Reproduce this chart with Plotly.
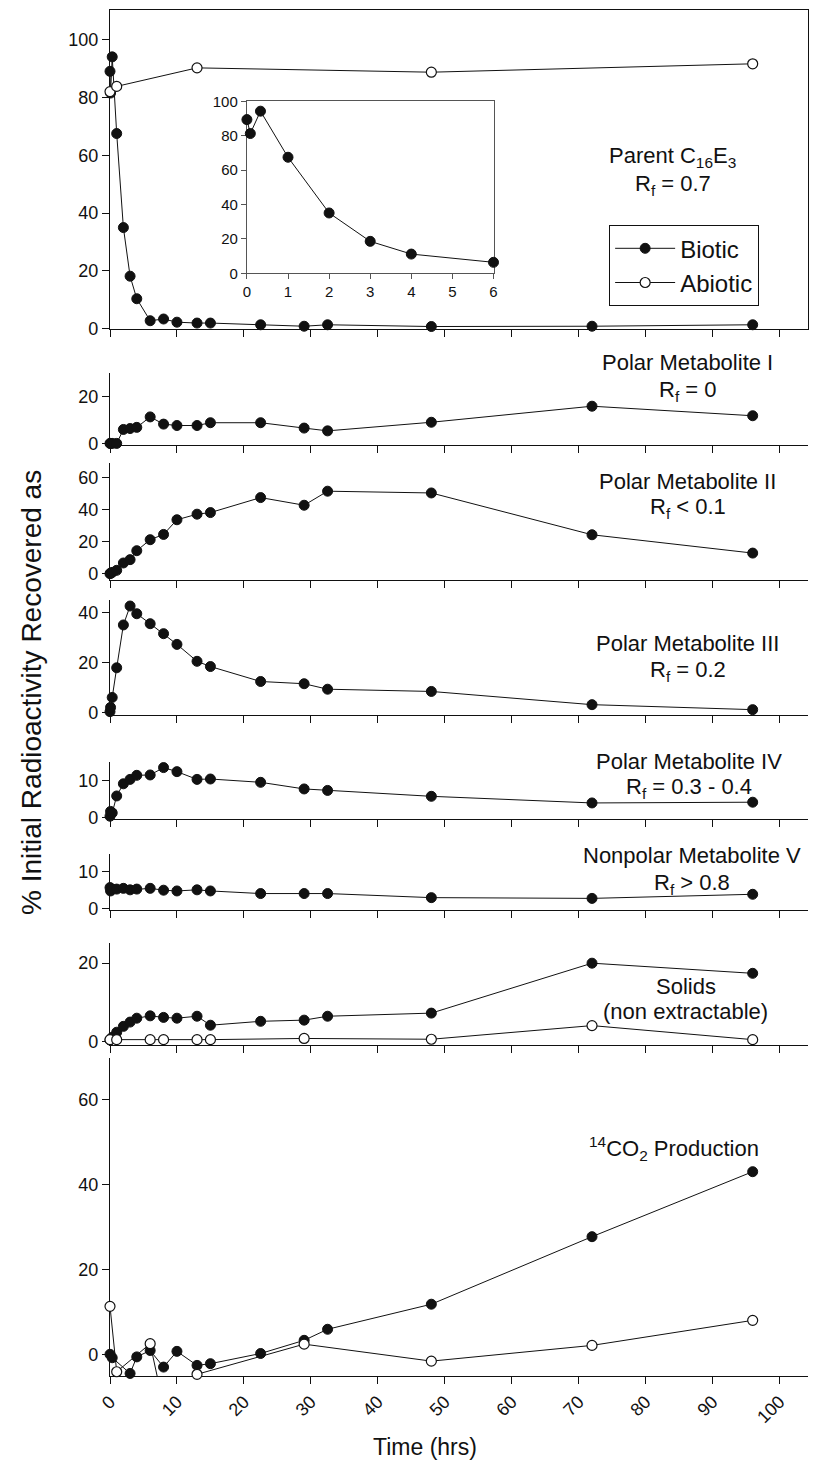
import plotly.graph_objects as go

# ---------------- data ----------------
# sampling times (hrs) for the biotic incubations
t_bio = [0, 0.083, 0.33, 1, 2, 3, 4, 6, 8, 10, 13, 15, 22.5, 29, 32.5, 48, 72, 96]

parent_bio = [89, 81.5, 94, 67.5, 35, 18.2, 10.4, 2.8, 3.4, 2.3, 2.0, 2.0, 1.4, 0.9, 1.4, 0.8, 0.9, 1.4]
t_parent_abio = [0, 1, 13, 48, 96]
parent_abio = [82, 83.8, 90.2, 88.7, 91.6]

# first six hours of the parent compound (inset)
t_inset = [0, 0.083, 0.33, 1, 2, 3, 4, 6]
inset_bio = [89.4, 81.3, 94.3, 67.5, 35.1, 18.6, 11.2, 6.4]

polar1_bio = [0, 0, 0, 0, 6.0, 6.4, 6.9, 11.4, 8.3, 7.7, 7.7, 8.9, 8.9, 6.6, 5.4, 9.1, 16.0, 11.9]
polar2_bio = [0, 0.3, 0.8, 2.1, 6.7, 8.8, 14.4, 21.3, 24.6, 33.8, 37.3, 38.3, 47.7, 42.9, 51.7, 50.6, 24.4, 12.9]
polar3_bio = [0.3, 2.0, 6.0, 17.9, 35.1, 42.7, 39.6, 35.6, 31.6, 27.3, 20.5, 18.4, 12.4, 11.5, 9.3, 8.4, 3.1, 1.1]
polar4_bio = [0.3, 1.6, 1.2, 5.8, 9.1, 10.3, 11.4, 11.5, 13.5, 12.4, 10.3, 10.4, 9.5, 7.7, 7.3, 5.7, 3.9, 4.1]
nonpolar5_bio = [5.6, 4.7, 5.2, 5.2, 5.4, 5.0, 5.2, 5.4, 4.9, 4.7, 5.0, 4.7, 4.0, 4.0, 4.0, 2.9, 2.7, 3.8]
solids_bio = [0.3, 0.5, 1.0, 2.3, 3.8, 4.9, 5.9, 6.5, 6.1, 5.9, 6.4, 4.1, 5.1, 5.4, 6.4, 7.2, 20.0, 17.4]
t_solids_abio = [0, 1, 6, 8, 13, 15, 29, 48, 72, 96]
solids_abio = [0.4, 0.4, 0.4, 0.4, 0.4, 0.4, 0.7, 0.5, 4.0, 0.4]

t_co2_bio = [0, 0.33, 3, 4, 6, 8, 10, 13, 15, 22.5, 29, 32.5, 48, 72, 96]
co2_bio = [0.1, -0.7, -4.4, -0.5, 1.0, -2.9, 0.8, -2.5, -2.1, 0.3, 3.4, 6.0, 11.9, 27.8, 43.1]
t_co2_abio = [0, 1, 6, 8, 13, 29, 48, 72, 96]
co2_abio = [11.4, -4.0, 2.6, -12.0, -4.6, 2.5, -1.5, 2.2, 8.1]

x_ticks = [0, 10, 20, 30, 40, 50, 60, 70, 80, 90, 100]
inset_x_ticks = [0, 1, 2, 3, 4, 5, 6]

# ---------------- page geometry ----------------
W, H = 813, 1464
ML, MR, MT, MB = 110, 1, 5, 88
PW = W - ML - MR
PH = H - MT - MB
X_MAX = PW / 67.33 * 10  # 10 hrs per 67.33 px


def fx(px):
    return (px - ML) / PW


def fy(py):
    return (H - MB - py) / PH


FONT = "Arial, 'Liberation Sans', Helvetica, sans-serif"
INK = "#111111"

# panel frames in page pixels (top, bottom), y-range and y ticks
panels = [
    dict(top=5, bottom=325, yr=[0, 110.2], yt=[0, 20, 40, 60, 80, 100]),
    dict(top=369.3, bottom=441.7, yr=[-0.73, 30.3], yt=[0, 20]),
    dict(top=459.3, bottom=577.3, yr=[-4.1, 69.6], yt=[0, 20, 40, 60]),
    dict(top=596.7, bottom=712.7, yr=[-1.1, 45.3], yt=[0, 20, 40]),
    dict(top=760, bottom=817.3, yr=[-0.55, 14.95], yt=[0, 10]),
    dict(top=851.7, bottom=908.3, yr=[-0.43, 14.75], yt=[0, 10]),
    dict(top=941.7, bottom=1043.3, yr=[-0.85, 25.1], yt=[0, 20]),
    dict(top=1056.7, bottom=1376, yr=[-5.0, 69.9], yt=[0, 20, 40, 60]),
]

fig = go.Figure()

filled = dict(symbol="circle", size=10, color=INK, line=dict(color=INK, width=1))
hollow = dict(symbol="circle", size=10, color="white", line=dict(color=INK, width=1.2))


def add_series(x, y, idx, style, name, legend=False, yrange=None):
    marker = dict(style)
    if yrange is not None:
        # hide markers that fall outside the panel's y-range
        marker["opacity"] = [1 if yrange[0] <= v <= yrange[1] else 0 for v in y]
    fig.add_trace(go.Scatter(
        x=x, y=y, mode="lines+markers", name=name, showlegend=legend,
        line=dict(color=INK, width=1), marker=marker, cliponaxis=False,
        xaxis="x" if idx == 1 else f"x{idx}", yaxis="y" if idx == 1 else f"y{idx}",
        hoverinfo="x+y",
    ))


add_series(t_bio, parent_bio, 1, filled, "Biotic", legend=True)
add_series(t_parent_abio, parent_abio, 1, hollow, "Abiotic", legend=True)
add_series(t_bio, polar1_bio, 2, filled, "Biotic")
add_series(t_bio, polar2_bio, 3, filled, "Biotic")
add_series(t_bio, polar3_bio, 4, filled, "Biotic")
add_series(t_bio, polar4_bio, 5, filled, "Biotic")
add_series(t_bio, nonpolar5_bio, 6, filled, "Biotic")
add_series(t_bio, solids_bio, 7, filled, "Biotic")
add_series(t_solids_abio, solids_abio, 7, hollow, "Abiotic")
add_series(t_co2_bio, co2_bio, 8, filled, "Biotic", yrange=panels[7]["yr"])
add_series(t_co2_abio, co2_abio, 8, hollow, "Abiotic", yrange=panels[7]["yr"])

# inset: parent compound over the first six hours
fig.add_trace(go.Scatter(
    x=t_inset, y=inset_bio, mode="lines+markers", showlegend=False, name="Biotic",
    line=dict(color=INK, width=1), marker=filled, cliponaxis=False,
    xaxis="x9", yaxis="y9",
))

axis_common = dict(
    showgrid=False, zeroline=False, showline=True, linecolor=INK, linewidth=1.2,
    ticks="outside", tickcolor=INK, tickwidth=1.2, ticklen=7, layer="below traces",
    tickfont=dict(family=FONT, size=18, color=INK),
)

layout = dict(
    width=W, height=H, margin=dict(l=ML, r=MR, t=MT, b=MB),
    paper_bgcolor="white", plot_bgcolor="white",
    font=dict(family=FONT, color=INK),
    showlegend=True,
    legend=dict(
        x=fx(612), y=fy(221), xanchor="left", yanchor="top",
        bordercolor=INK, borderwidth=1, bgcolor="white",
        font=dict(family=FONT, size=24, color=INK),
        itemwidth=60, tracegroupgap=2,
    ),
)

for i, p in enumerate(panels, start=1):
    xa = "xaxis" if i == 1 else f"xaxis{i}"
    ya = "yaxis" if i == 1 else f"yaxis{i}"
    yref = "y" if i == 1 else f"y{i}"
    xref = "x" if i == 1 else f"x{i}"
    dom = [fy(p["bottom"]), fy(p["top"])]
    layout[xa] = dict(
        axis_common, domain=[0, 1], range=[0, X_MAX], anchor=yref,
        tickvals=x_ticks, showticklabels=(i == 8), tickangle=-45,
        mirror=(i == 1),
        **({} if i == 1 else dict(matches="x")),
    )
    layout[ya] = dict(
        axis_common, domain=dom, range=p["yr"], anchor=xref,
        tickvals=p["yt"], mirror=(i == 1),
    )

layout["xaxis9"] = dict(
    axis_common, domain=[fx(247.7), fx(495.7)], range=[0, 6], anchor="y9",
    tickvals=inset_x_ticks, ticklen=5, linecolor="#555555", tickcolor="#555555",
    tickfont=dict(family=FONT, size=15, color=INK), mirror=True,
)
layout["yaxis9"] = dict(
    axis_common, domain=[fy(269.3), fy(96.7)], range=[0, 100], anchor="x9",
    tickvals=[0, 20, 40, 60, 80, 100], ticklen=5, linecolor="#555555", tickcolor="#555555",
    tickfont=dict(family=FONT, size=15, color=INK), mirror=True,
)

fig.update_layout(**layout)

# panel labels
labels = [
    ("Parent C<sub>16</sub>E<sub>3</sub>", 676, 153),
    ("R<sub>f</sub> = 0.7", 676, 181),
    ("Polar Metabolite I", 691, 359),
    ("R<sub>f</sub> = 0", 691, 387),
    ("Polar Metabolite II", 691, 478),
    ("R<sub>f</sub> &lt; 0.1", 691, 505),
    ("Polar Metabolite III", 691, 641),
    ("R<sub>f</sub> = 0.2", 691, 668),
    ("Polar Metabolite IV", 692, 759),
    ("R<sub>f</sub> = 0.3 - 0.4", 692, 786),
    ("Nonpolar Metabolite V", 695, 854),
    ("R<sub>f</sub> &gt; 0.8", 695, 882),
    ("Solids", 689, 985),
    ("(non extractable)", 689, 1010),
    ("<sup>14</sup>CO<sub>2</sub> Production", 677, 1148),
]
for text, px, py in labels:
    fig.add_annotation(
        text=text, x=fx(px), y=fy(py), xref="paper", yref="paper",
        xanchor="center", yanchor="middle", showarrow=False,
        font=dict(family=FONT, size=22, color=INK),
    )

# axis titles
fig.add_annotation(
    text="Time (hrs)", x=fx(427), y=fy(1447), xref="paper", yref="paper",
    xanchor="center", yanchor="middle", showarrow=False,
    font=dict(family=FONT, size=23, color=INK),
)
fig.add_annotation(
    text="% Initial Radioactivity Recovered as", x=fx(31), y=fy(690),
    xref="paper", yref="paper", xanchor="center", yanchor="middle",
    textangle=-90, showarrow=False,
    font=dict(family=FONT, size=28, color=INK),
)

fig.write_html("out.html")
